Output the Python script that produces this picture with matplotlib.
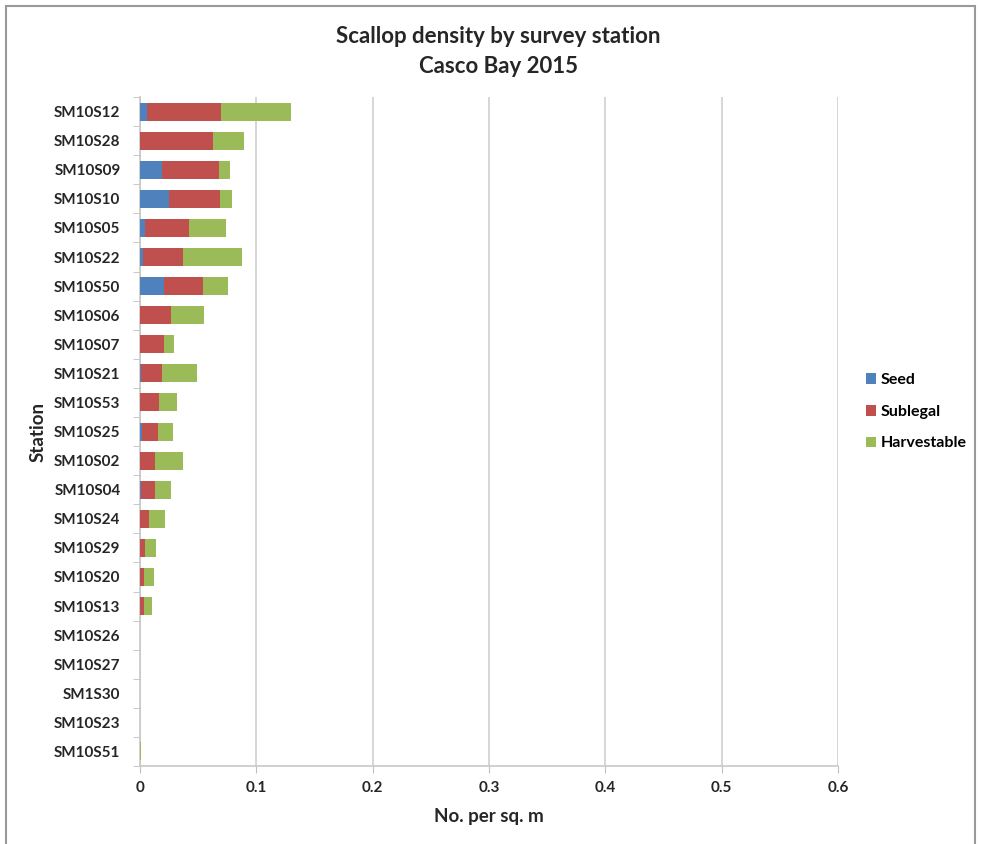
import numpy as np
import matplotlib
matplotlib.use('Agg')
import matplotlib.pyplot as plt
from matplotlib.patches import Rectangle

stations = ['SM10S12', 'SM10S28', 'SM10S09', 'SM10S10', 'SM10S05', 'SM10S22',
            'SM10S50', 'SM10S06', 'SM10S07', 'SM10S21', 'SM10S53', 'SM10S25',
            'SM10S02', 'SM10S04', 'SM10S24', 'SM10S29', 'SM10S20', 'SM10S13',
            'SM10S26', 'SM10S27', 'SM1S30', 'SM10S23', 'SM10S51']
seed = [0.006, 0.0, 0.019, 0.025, 0.004, 0.003, 0.021, 0.0, 0.0, 0.001, 0.0, 0.0015,
        0.0, 0.001, 0.0, 0.0, 0.0, 0.0, 0.0, 0.0, 0.0, 0.0, 0.0]
sublegal = [0.064, 0.063, 0.049, 0.044, 0.038, 0.034, 0.033, 0.027, 0.021, 0.018,
            0.016, 0.014, 0.013, 0.012, 0.0074, 0.0046, 0.0037, 0.0037,
            0.0, 0.0, 0.0, 0.0, 0.0]
harvestable = [0.060, 0.026, 0.009, 0.010, 0.032, 0.051, 0.022, 0.028, 0.008, 0.030,
               0.016, 0.013, 0.024, 0.0135, 0.014, 0.009, 0.008, 0.0063,
               0.0, 0.0, 0.0, 0.0, 0.0007]
xticks = [0, 0.1, 0.2, 0.3, 0.4, 0.5, 0.6]

plt.rcParams['font.family'] = ['Lato', 'DejaVu Sans']

fig = plt.figure(figsize=(9.81, 8.44), dpi=100)
ax = fig.add_axes([0.1427, 0.0924, 0.7115, 0.7926])

y = np.arange(len(stations))
seed = np.array(seed)
sublegal = np.array(sublegal)
harvestable = np.array(harvestable)
h = 0.62
ax.barh(y, seed, height=h, color='#4F81BD', label='Seed', zorder=3)
ax.barh(y, sublegal, left=seed, height=h, color='#C0504D', label='Sublegal', zorder=3)
ax.barh(y, harvestable, left=seed + sublegal, height=h, color='#9BBB59',
        label='Harvestable', zorder=3)

ax.set_ylim(len(stations) - 0.5, -0.5)
ax.set_xlim(0, 0.6)
ax.set_xticks(xticks)
ax.set_xticklabels(['0', '0.1', '0.2', '0.3', '0.4', '0.5', '0.6'])
ax.set_yticks(y)
ax.set_yticklabels(stations)
ax.set_yticks(np.arange(len(stations) + 1) - 0.5, minor=True)
ax.tick_params(axis='y', which='major', length=0, pad=14)
ax.tick_params(axis='y', which='minor', length=5, color='#bfbfbf')
ax.tick_params(axis='x', length=5, color='#bfbfbf', pad=6)
for lab in ax.get_xticklabels() + ax.get_yticklabels():
    lab.set_fontweight('bold')
    lab.set_fontsize(11)
    lab.set_color('#262626')

ax.grid(axis='x', color='#d0d0d0', linewidth=1.2, zorder=0)
for s in ['top', 'right']:
    ax.spines[s].set_visible(False)
for s in ['left', 'bottom']:
    ax.spines[s].set_color('#c8c8c8')
    ax.spines[s].set_linewidth(1.2)

ax.set_xlabel('No. per sq. m', fontsize=13.5, fontweight='bold', color='#262626', labelpad=9)
ax.set_ylabel('Station', fontsize=13.5, fontweight='bold', color='#262626', labelpad=5)

fig.text(0.508, 0.957, 'Scallop density by survey station', ha='center', va='center',
         fontsize=16, fontweight='bold', color='#262626')
fig.text(0.508, 0.921, 'Casco Bay 2015', ha='center', va='center',
         fontsize=16, fontweight='bold', color='#262626')

ax.legend(loc='center left', bbox_to_anchor=(0.868, 0.512), bbox_transform=fig.transFigure,
          frameon=False, prop={'weight': 'bold', 'size': 11.5},
          handlelength=0.65, handleheight=0.65, handletextpad=0.3, labelspacing=1.1)

fig.patches.append(Rectangle((0.006, -0.05), 0.988, 1.043, transform=fig.transFigure,
                             fill=False, edgecolor='#999999', linewidth=1.5))

fig.savefig('out.png', dpi=100)
